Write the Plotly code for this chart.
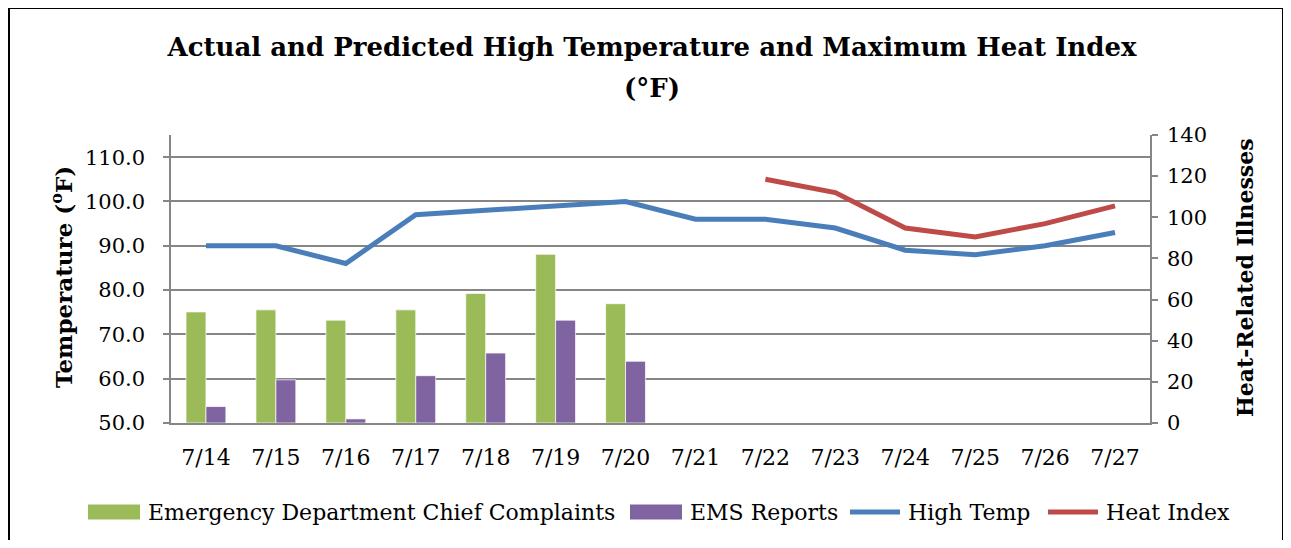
import plotly.graph_objects as go

dates = ["7/14", "7/15", "7/16", "7/17", "7/18", "7/19", "7/20",
         "7/21", "7/22", "7/23", "7/24", "7/25", "7/26", "7/27"]
ed_complaints = [54, 55, 50, 55, 63, 82, 58, None, None, None, None, None, None, None]
ems_reports = [8, 21, 2, 23, 34, 50, 30, None, None, None, None, None, None, None]
high_temp = [90, 90, 86, 97, 98, 99, 100, 96, 96, 94, 89, 88, 90, 93]
heat_index = [None, None, None, None, None, None, None, None, 105, 102, 94, 92, 95, 99]

temp_ticks = [50, 60, 70, 80, 90, 100, 110]
ill_ticks = [0, 20, 40, 60, 80, 100, 120, 140]

series_names = ["Emergency Department Chief Complaints", "EMS Reports", "High Temp", "Heat Index"]
series_colors = ["#9BBB59", "#8064A2", "#4A7EBB", "#BE4B48"]

FONT = "DejaVu Serif"
GRID = "#868686"

OFF = 8                      # browser body margin
W, H = 1291 - 2 * OFF, 548 - 2 * OFF
# plot area in page (reference) pixels
L, R, T, B = 171, 1150, 135, 423


def px(x):
    return (x - L) / (R - L)


def py(y):
    return (B - y) / (B - T)


fig = go.Figure()
fig.add_trace(go.Bar(x=dates, y=ed_complaints, name=series_names[0],
                     marker=dict(color=series_colors[0], line=dict(color="rgba(255,255,255,0.7)", width=1)),
                     yaxis="y2", offsetgroup="a"))
fig.add_trace(go.Bar(x=dates, y=ems_reports, name=series_names[1],
                     marker=dict(color=series_colors[1], line=dict(color="rgba(255,255,255,0.7)", width=1)),
                     yaxis="y2", offsetgroup="b"))
fig.add_trace(go.Scatter(x=dates, y=high_temp, name=series_names[2], mode="lines",
                         line=dict(color=series_colors[2], width=5), yaxis="y"))
fig.add_trace(go.Scatter(x=dates, y=heat_index, name=series_names[3], mode="lines",
                         line=dict(color=series_colors[3], width=5), yaxis="y"))

fig.update_layout(
    width=W, height=H,
    margin=dict(l=L - OFF, r=W - (R - OFF), t=T - OFF, b=H - (B - OFF)),
    paper_bgcolor="white", plot_bgcolor="white",
    font=dict(family=FONT, size=21, color="black"),
    barmode="group", bargap=0.43, bargroupgap=0,
    showlegend=False,
    title=dict(text="<b>Actual and Predicted High Temperature and Maximum Heat Index</b>",
               x=(652 - OFF) / W, xref="container", xanchor="center",
               y=1 - (47 - OFF) / H, yref="container", yanchor="middle",
               font=dict(family=FONT, size=26, color="black")),
    xaxis=dict(showgrid=False, showline=True, linecolor=GRID, linewidth=1.5,
               ticks="", tickfont=dict(size=22), ticklabelstandoff=14),
    yaxis=dict(range=[50, 115], tickvals=temp_ticks, tickformat=".1f",
               showgrid=True, gridcolor=GRID, gridwidth=1.5,
               showline=True, linecolor=GRID, linewidth=1.5,
               ticks="outside", ticklen=6, tickcolor=GRID, tickwidth=1.5,
               tickfont=dict(size=21), ticklabelstandoff=14, zeroline=False),
    yaxis2=dict(range=[0, 140], tickvals=ill_ticks, overlaying="y", side="right",
                showgrid=False, showline=True, linecolor=GRID, linewidth=1.5,
                ticks="outside", ticklen=6, tickcolor=GRID, tickwidth=1.5,
                tickfont=dict(size=21), ticklabelstandoff=5, zeroline=False),
)

# second title line
fig.add_annotation(text="<b>(°F)</b>", xref="paper", yref="paper",
                   x=px(652), y=py(88), xanchor="center", yanchor="middle", showarrow=False,
                   font=dict(family=FONT, size=26, color="black"))

# axis titles
fig.add_annotation(text="<b>Temperature (<sup>o</sup>F)</b>", xref="paper", yref="paper",
                   x=px(62), y=py(277), xanchor="center", yanchor="middle",
                   textangle=-90, showarrow=False,
                   font=dict(family=FONT, size=23, color="black"))
fig.add_annotation(text="<b>Heat-Related Illnesses</b>", xref="paper", yref="paper",
                   x=px(1245), y=py(278), xanchor="center", yanchor="middle",
                   textangle=-90, showarrow=False,
                   font=dict(family=FONT, size=22, color="black"))

# legend (keys + labels)
key_left = [88, 630, 848, 1046]
key_kind = ["rect", "rect", "line", "line"]
ly = 512
for name, color, x0, kind in zip(series_names, series_colors, key_left, key_kind):
    if kind == "rect":
        fig.add_shape(type="rect", xref="paper", yref="paper",
                      x0=px(x0), x1=px(x0 + 52), y0=py(ly + 7.5), y1=py(ly - 7.5),
                      line=dict(width=0), fillcolor=color)
    else:
        fig.add_shape(type="line", xref="paper", yref="paper",
                      x0=px(x0 + 2), x1=px(x0 + 52), y0=py(ly), y1=py(ly),
                      line=dict(color=color, width=5))
    fig.add_annotation(text=name, xref="paper", yref="paper", x=px(x0 + 58), y=py(ly),
                       xanchor="left", yanchor="middle", showarrow=False,
                       font=dict(family=FONT, size=22, color="black"))

# outer frame
fig.add_shape(type="rect", xref="paper", yref="paper",
              x0=px(9), x1=px(1283), y0=py(575), y1=py(8),
              line=dict(color="black", width=2), fillcolor="rgba(0,0,0,0)", layer="above")

fig.write_html("out.html")
